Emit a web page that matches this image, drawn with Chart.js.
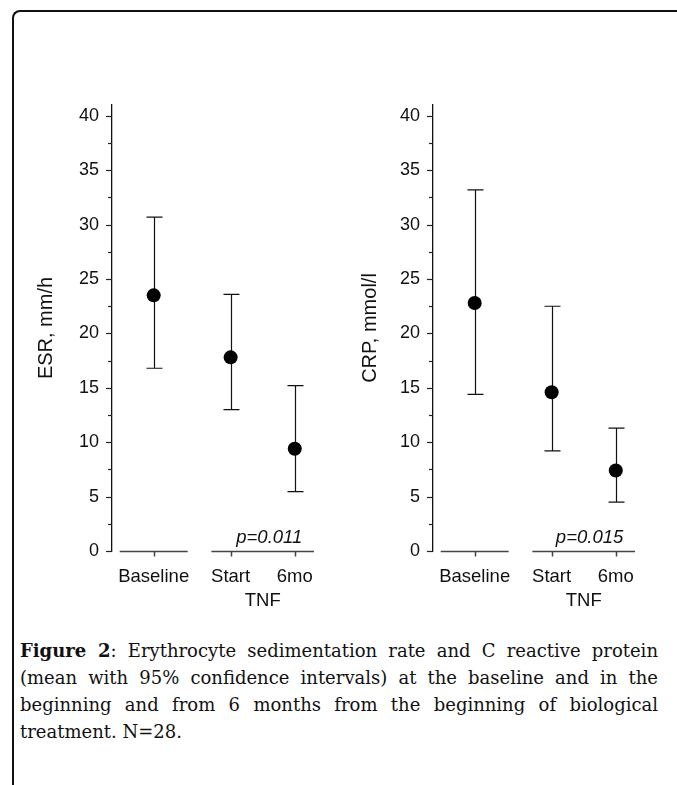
<!DOCTYPE html>
<html>
<head>
<meta charset="utf-8">
<script src="https://cdn.jsdelivr.net/npm/chart.js@4.4.1/dist/chart.umd.min.js"></script>
<style>
  html, body { margin: 0; padding: 0; background: #fff; }
  body { width: 677px; height: 785px; position: relative; overflow: hidden; }
  .frame {
    position: absolute; left: 12px; top: 10px; width: 720px; height: 820px;
    border-top: 2px solid #111; border-left: 2px solid #111;
    border-top-left-radius: 8px;
  }
  canvas { position: absolute; }
  .caption {
    position: absolute; left: 20px; top: 637px; width: 638px;
    font-family: "DejaVu Serif", serif; font-size: 18px; line-height: 27px; color: #111;
  }
  .caption .ln { text-align: justify; text-align-last: justify; white-space: nowrap; }
  .caption .ln.last { text-align-last: left; }
</style>
</head>
<body>
<div class="frame"></div>
<canvas id="esrChart" width="310" height="545" style="left:30px;top:80px;width:310px;height:545px"></canvas>
<canvas id="crpChart" width="320" height="545" style="left:340px;top:80px;width:320px;height:545px"></canvas>
<div class="caption">
  <div class="ln"><b>Figure 2</b>: Erythrocyte sedimentation rate and C reactive protein</div>
  <div class="ln">(mean with 95% confidence intervals) at the baseline and in the</div>
  <div class="ln">beginning and from 6 months from the beginning of biological</div>
  <div class="ln last">treatment. N=28.</div>
</div>
<script>
// data
const categories = ["Baseline", "Start", "6mo"];
const groups = ["", "TNF", "TNF"];
const esrMean = [23.5, 17.8, 9.4];
const esrLow = [16.8, 13.0, 5.45];
const esrHigh = [30.7, 23.6, 15.2];
const crpMean = [22.8, 14.6, 7.4];
const crpLow = [14.4, 9.2, 4.5];
const crpHigh = [33.2, 22.5, 11.3];
const yTicks = [0, 5, 10, 15, 20, 25, 30, 35, 40];

// layout: TNF group is pushed a bit to the right of Baseline
const groupGap = 0.2;
const xPos = categories.map((c, i) => i + (groups[i] ? groupGap : 0));

const family = "'Liberation Sans', Arial, sans-serif";
const tickFont = { family, size: 18 };
const catFont = { family, size: 18.5 };
const titleFont = { family, size: 20 };

const errorBars = {
  id: "errorBars",
  beforeDatasetsDraw(chart, args, opts) {
    const { ctx, scales: { x, y } } = chart;
    ctx.save();
    ctx.strokeStyle = "#222";
    ctx.lineWidth = 1.2;
    // y ticks, major and minor, pointing out
    for (let v = 0; v <= 40; v += 2.5) {
      const py = Math.round(y.getPixelForValue(v)) + 0.5;
      const len = v % 5 === 0 ? 6 : 4;
      ctx.beginPath();
      ctx.moveTo(x.left, py);
      ctx.lineTo(x.left - len, py);
      ctx.stroke();
    }
    // broken x axis, one piece per group
    const y0 = Math.round(y.getPixelForValue(0)) + 0.5;
    ctx.strokeStyle = "#444";
    ctx.lineWidth = 1.5;
    const seen = [];
    groups.forEach((g) => {
      if (seen.includes(g)) return;
      seen.push(g);
      const idx = xPos.filter((_, i) => groups[i] === g);
      const pad = idx.length > 1 ? 0.3 : 0.53;
      ctx.beginPath();
      ctx.moveTo(x.getPixelForValue(idx[0] - pad), y0);
      ctx.lineTo(x.getPixelForValue(idx[idx.length - 1] + pad), y0);
      ctx.stroke();
    });
    xPos.forEach((v) => {
      const px = Math.round(x.getPixelForValue(v)) + 0.5;
      ctx.beginPath();
      ctx.moveTo(px, y0);
      ctx.lineTo(px, y0 + 5);
      ctx.stroke();
    });
    // confidence intervals
    ctx.strokeStyle = "#111";
    ctx.lineWidth = 1.2;
    opts.low.forEach((lo, i) => {
      const px = Math.round(x.getPixelForValue(xPos[i])) + 0.5;
      const pl = y.getPixelForValue(lo);
      const ph = y.getPixelForValue(opts.high[i]);
      ctx.beginPath();
      ctx.moveTo(px, pl); ctx.lineTo(px, ph);
      ctx.moveTo(px - 8, pl); ctx.lineTo(px + 8, pl);
      ctx.moveTo(px - 8, ph); ctx.lineTo(px + 8, ph);
      ctx.stroke();
    });
    ctx.restore();
  },
  afterDraw(chart, args, opts) {
    const { ctx, scales: { x, y } } = chart;
    const y0 = y.getPixelForValue(0);
    const tnf = xPos.filter((_, i) => groups[i] === "TNF");
    ctx.save();
    ctx.fillStyle = "#111";
    ctx.font = "18.5px " + family;
    ctx.textAlign = "center";
    ctx.textBaseline = "middle";
    ctx.fillText("TNF", (x.getPixelForValue(tnf[0]) + x.getPixelForValue(tnf[1])) / 2, y0 + 50);
    ctx.font = "italic 18.5px " + family;
    ctx.textAlign = "right";
    ctx.textBaseline = "alphabetic";
    ctx.fillText(opts.pText, x.getPixelForValue(tnf[1]) + 7.5, y0 - 8);
    ctx.restore();
  }
};

function makePanel(id, title, mean, low, high, pText, yWidth, titlePad, padRight) {
  const points = mean.map((v, i) => ({ x: xPos[i], y: v }));
  return new Chart(document.getElementById(id), {
    type: "scatter",
    data: {
      datasets: [{
        data: points,
        pointRadius: 7,
        pointHoverRadius: 7,
        backgroundColor: "#000",
        borderWidth: 0
      }]
    },
    options: {
      responsive: false,
      animation: false,
      layout: { padding: { top: 25, right: padRight, left: 0, bottom: 0 } },
      plugins: {
        legend: { display: false },
        tooltip: { enabled: false },
        errorBars: { low, high, pText }
      },
      scales: {
        x: {
          type: "linear",
          min: -0.65,
          max: 2.5,
          grid: { display: false, drawTicks: false },
          border: { display: false },
          afterBuildTicks: (s) => { s.ticks = xPos.map((v) => ({ value: v })); },
          afterFit: (s) => { s.height = 74; },
          ticks: {
            callback: (v, i) => categories[i],
            font: catFont, color: "#111", padding: 15, maxRotation: 0, autoSkip: false
          }
        },
        y: {
          min: 0,
          max: 41,
          grid: { display: false, drawTicks: false },
          border: { display: true, color: "#111", width: 1.3 },
          afterBuildTicks: (s) => { s.ticks = yTicks.map((v) => ({ value: v })); },
          afterFit: (s) => { s.width = yWidth; },
          ticks: { font: tickFont, color: "#111", padding: 13 },
          title: { display: true, text: title, font: titleFont, color: "#111", padding: { top: titlePad, bottom: 0 } }
        }
      }
    },
    plugins: [errorBars]
  });
}

makePanel("esrChart", "ESR, mm/h", esrMean, esrLow, esrHigh, "p=0.011", 82, 4, 26);
makePanel("crpChart", "CRP, mmol/l", crpMean, crpLow, crpHigh, "p=0.015", 93, 18, 25);
</script>
</body>
</html>
